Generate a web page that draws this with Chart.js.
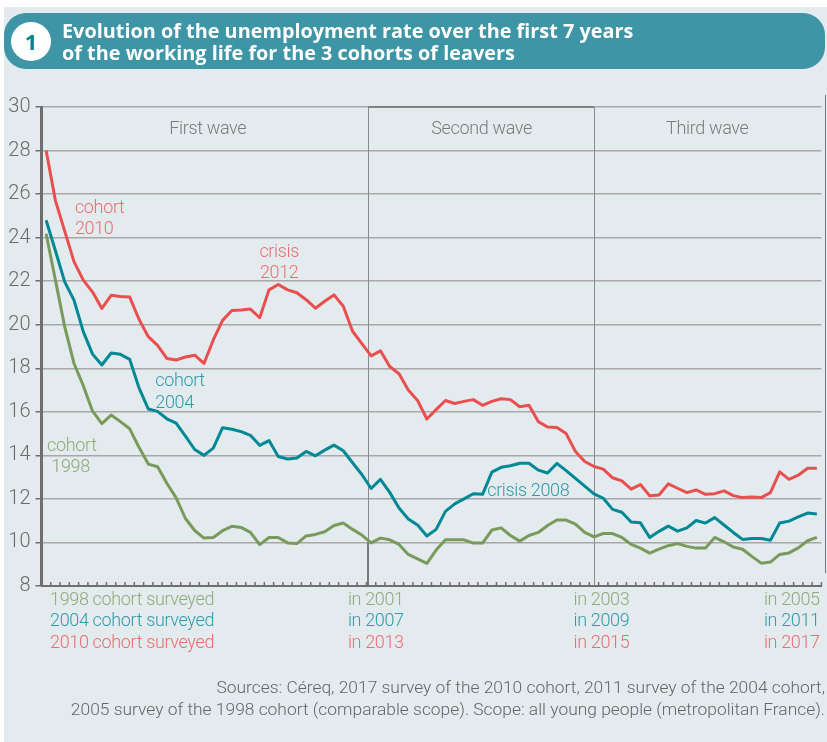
<!DOCTYPE html>
<html>
<head>
<meta charset="utf-8">
<title>Unemployment rate by cohort</title>
<script src="https://cdn.jsdelivr.net/npm/chart.js@4"></script>
<style>
    html, body { margin: 0; padding: 0; background: #fff; }
    #page { position: relative; width: 827px; height: 742px; overflow: hidden; }
    #panel { position: absolute; left: 4px; top: 7px; right: 0; bottom: 0; background: #e3ebef; }
    #chart { position: absolute; left: 0; top: 0; }
    #pill { position: absolute; left: 4px; top: 13px; width: 821px; height: 56px; border-radius: 22px; background: #3d95a5; }
    #badge { position: absolute; left: 11px; top: 22px; width: 40px; height: 39px; border-radius: 50%; background: #fff;
        color: #00838f; font: 700 22px/39px "Open Sans", sans-serif; text-align: center; }
    #title { position: absolute; left: 62px; top: 20px; color: #fff; font: 700 19.85px/22px "Open Sans", sans-serif; white-space: nowrap; }
    #edge { position: absolute; left: 825px; top: 95px; width: 1px; height: 478px; background: #77787a; }
    #sources { position: absolute; right: 2px; top: 676px; color: #646566; font: 300 17.4px/22px Roboto, sans-serif; text-align: right; white-space: nowrap; }
</style>
</head>
<body>
<div id="page">
    <div id="panel"></div>
    <canvas id="chart" width="827" height="742"></canvas>
    <div id="pill"></div>
    <div id="badge">1</div>
    <div id="title">Evolution of the unemployment rate over the first 7 years<br>of the working life for the 3 cohorts of leavers</div>
    <div id="edge"></div>
    <div id="sources">Sources: Céreq, 2017 survey of the 2010 cohort, 2011 survey of the 2004 cohort,<br>2005 survey of the 1998 cohort (comparable scope). Scope: all young people (metropolitan France).</div>
</div>
<script>
const months = Array.from({ length: 84 }, (_, i) => i + 1);

const cohort2010 = [
    28.0, 25.7, 24.3, 22.9, 22.05, 21.5, 20.75, 21.35, 21.3, 21.27, 20.25, 19.45,
    19.05, 18.45, 18.38, 18.52, 18.6, 18.22, 19.3, 20.2, 20.65, 20.68, 20.72, 20.32,
    21.6, 21.85, 21.6, 21.47, 21.15, 20.76, 21.08, 21.37, 20.85, 19.7, 19.13, 18.57,
    18.8, 18.08, 17.75, 17.0, 16.52, 15.67, 16.1, 16.52, 16.38, 16.48, 16.56, 16.3,
    16.48, 16.6, 16.56, 16.23, 16.3, 15.55, 15.3, 15.28, 15.0, 14.18, 13.72, 13.49,
    13.37, 12.97, 12.83, 12.45, 12.66, 12.14, 12.18, 12.69, 12.49, 12.29, 12.41, 12.21,
    12.24, 12.37, 12.15, 12.06, 12.09, 12.06, 12.29, 13.24, 12.9, 13.09, 13.41, 13.41
];
const cohort2004 = [
    24.8, 23.4, 21.97, 21.13, 19.68, 18.65, 18.15, 18.7, 18.64, 18.41, 17.1, 16.13,
    16.02, 15.68, 15.48, 14.88, 14.27, 14.0, 14.33, 15.27, 15.2, 15.09, 14.92, 14.46,
    14.68, 13.95, 13.83, 13.88, 14.18, 13.98, 14.24, 14.47, 14.21, 13.66, 13.12, 12.48,
    12.9, 12.3, 11.58, 11.08, 10.8, 10.3, 10.6, 11.43, 11.77, 12.0, 12.24, 12.21,
    13.23, 13.45, 13.52, 13.64, 13.64, 13.32, 13.19, 13.63, 13.3, 12.94, 12.59, 12.23,
    12.03, 11.52, 11.39, 10.94, 10.9, 10.23, 10.51, 10.75, 10.52, 10.67, 11.01, 10.89,
    11.14, 10.8, 10.46, 10.14, 10.18, 10.18, 10.1, 10.89, 10.98, 11.17, 11.35, 11.31
];
const cohort1998 = [
    24.18, 22.05, 19.9, 18.22, 17.2, 16.03, 15.46, 15.85, 15.55, 15.22, 14.37, 13.6,
    13.48, 12.72, 12.05, 11.1, 10.55, 10.2, 10.23, 10.54, 10.74, 10.69, 10.46, 9.9,
    10.23, 10.23, 9.98, 9.95, 10.3, 10.37, 10.49, 10.78, 10.89, 10.6, 10.34, 9.98,
    10.2, 10.12, 9.91, 9.45, 9.25, 9.04, 9.65, 10.12, 10.12, 10.12, 9.97, 9.97,
    10.57, 10.67, 10.32, 10.06, 10.32, 10.46, 10.78, 11.03, 11.03, 10.84, 10.46, 10.26,
    10.41, 10.41, 10.23, 9.91, 9.74, 9.51, 9.69, 9.85, 9.95, 9.82, 9.74, 9.74,
    10.23, 10.03, 9.79, 9.69, 9.36, 9.05, 9.1, 9.45, 9.52, 9.75, 10.08, 10.23
];

const RED = '#ea4f50', TEAL = '#008895', GREEN = '#7a9a5b';
const RED_TEXT = '#ee6c6f', TEAL_TEXT = '#2e9ba8', GREEN_TEXT = '#8fab78';
const LABEL_FONT = '300 18px Roboto, sans-serif';

// wave boundaries, as month indexes on the x axis
const waveBounds = [34.7, 59.0];
const waveNames = [['First wave', 17.4], ['Second wave', 46.9], ['Third wave', 71.2]];

const rowLabels = [
    { text: '1998 cohort surveyed', years: ['in 2001', 'in 2003', 'in 2005'], color: GREEN_TEXT },
    { text: '2004 cohort surveyed', years: ['in 2007', 'in 2009', 'in 2011'], color: TEAL_TEXT },
    { text: '2010 cohort surveyed', years: ['in 2013', 'in 2015', 'in 2017'], color: RED_TEXT },
];
const yearCentres = [35.5, 59.8, 80.3];

// text on the plot: [text, month index, value, colour, align]
const notes = [
    ['cohort', 3.1, 25.36, RED_TEXT, 'left'],
    ['2010', 3.1, 24.38, RED_TEXT, 'left'],
    ['crisis', 25.1, 23.34, RED_TEXT, 'center'],
    ['2012', 25.1, 22.37, RED_TEXT, 'center'],
    ['cohort', 11.75, 17.37, TEAL_TEXT, 'left'],
    ['2004', 11.75, 16.4, TEAL_TEXT, 'left'],
    ['crisis 2008', 47.5, 12.36, TEAL_TEXT, 'left'],
    ['cohort', 0.1, 14.43, GREEN_TEXT, 'left'],
    ['1998', 0.55, 13.46, GREEN_TEXT, 'left'],
];

const extras = {
    id: 'extras',
    // wave lines sit under the series
    beforeDatasetsDraw(chart) {
        const { ctx, scales: { x, y } } = chart;
        ctx.save();
        ctx.strokeStyle = '#8b8a8a';
        ctx.lineWidth = 1;
        waveBounds.forEach((b) => {
            const px = Math.round(x.getPixelForValue(b)) + 0.5;
            ctx.beginPath();
            ctx.moveTo(px, y.getPixelForValue(30));
            ctx.lineTo(px, y.getPixelForValue(8));
            ctx.stroke();
        });
        ctx.strokeStyle = '#6f6d6d';
        ctx.lineWidth = 1.5;
        ctx.beginPath();
        ctx.moveTo(x.getPixelForValue(waveBounds[0]), y.getPixelForValue(30));
        ctx.lineTo(x.getPixelForValue(waveBounds[1]), y.getPixelForValue(30));
        ctx.moveTo(x.getPixelForValue(waveBounds[0]) - 0.5, y.getPixelForValue(10));
        ctx.lineTo(x.getPixelForValue(waveBounds[0]) - 0.5, y.getPixelForValue(8));
        ctx.stroke();
        ctx.restore();
    },
    afterDatasetsDraw(chart) {
        const { ctx, scales: { x, y } } = chart;
        ctx.save();

        // month ticks point up from the axis
        ctx.strokeStyle = '#6f6d6d';
        ctx.lineWidth = 1.5;
        months.forEach((m, i) => {
            const px = x.getPixelForValue(i) + 4.6;
            ctx.beginPath();
            ctx.moveTo(px, y.bottom);
            ctx.lineTo(px, y.bottom - 4);
            ctx.stroke();
        });

        ctx.font = LABEL_FONT;
        ctx.letterSpacing = '-0.35px';
        ctx.textBaseline = 'middle';

        ctx.fillStyle = '#7c7a7a';
        ctx.textAlign = 'center';
        waveNames.forEach(([name, at]) => ctx.fillText(name, x.getPixelForValue(at), y.getPixelForValue(28.97)));

        notes.forEach(([text, at, val, color, align]) => {
            ctx.fillStyle = color;
            ctx.textAlign = align;
            ctx.fillText(text, x.getPixelForValue(at), y.getPixelForValue(val));
        });

        rowLabels.forEach((row, r) => {
            const py = y.bottom + 14 + r * 21.5;
            ctx.fillStyle = row.color;
            ctx.textAlign = 'left';
            ctx.fillText(row.text, x.left + 8.5, py);
            ctx.textAlign = 'center';
            row.years.forEach((yr, k) => ctx.fillText(yr, x.getPixelForValue(yearCentres[k]), py));
        });
        ctx.restore();
    }
};

new Chart(document.getElementById('chart'), {
    type: 'line',
    plugins: [extras],
    data: {
        labels: months,
        datasets: [
            { label: 'Cohort 2010', data: cohort2010, borderColor: RED },
            { label: 'Cohort 2004', data: cohort2004, borderColor: TEAL },
            { label: 'Cohort 1998', data: cohort1998, borderColor: GREEN },
        ]
    },
    options: {
        responsive: false,
        animation: false,
        layout: { padding: { left: 0, top: 107, right: 5.5, bottom: 0 } },
        elements: {
            point: { radius: 0 },
            line: { borderWidth: 3, tension: 0, borderJoinStyle: 'round' }
        },
        plugins: { legend: { display: false }, tooltip: { enabled: false } },
        scales: {
            x: {
                offset: true,
                afterFit: (s) => { s.height = 156; },
                grid: { display: false, drawTicks: false },
                border: { color: '#6f6d6d', width: 2 },
                ticks: { display: false }
            },
            y: {
                min: 8,
                max: 30,
                afterFit: (s) => { s.width = 41.5; },
                grid: { color: '#aaa7a7', lineWidth: 1.5, tickColor: '#6f6d6d', tickLength: 6, tickWidth: 1.5 },
                border: { color: '#6f6d6d', width: 3 },
                ticks: {
                    stepSize: 2,
                    padding: 5,
                    color: '#6c6a6a',
                    font: { family: 'Roboto, sans-serif', size: 20, weight: '300' }
                }
            }
        }
    }
});
</script>
</body>
</html>
